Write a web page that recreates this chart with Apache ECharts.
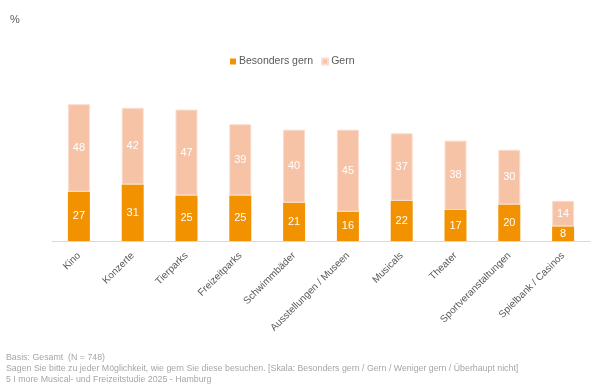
<!DOCTYPE html>
<html><head><meta charset="utf-8">
<script src="https://cdn.jsdelivr.net/npm/echarts@6/dist/echarts.min.js"></script>
<style>html,body{margin:0;padding:0;background:#fff}#c{width:600px;height:388px}</style>
</head><body><div id="c"></div>
<script>
const categories = ["Kino","Konzerte","Tierparks","Freizeitparks","Schwimmbäder","Ausstellungen / Museen","Musicals","Theater","Sportveranstaltungen","Spielbank / Casinos"];
const besondersGern = [27,31,25,25,21,16,22,17,20,8];
const gern = [48,42,47,39,40,45,37,38,30,14];
const footnotes = ["Basis: Gesamt  (N = 748)","Sagen Sie bitte zu jeder Möglichkeit, wie gern Sie diese besuchen. [Skala: Besonders gern / Gern / Weniger gern / Überhaupt nicht]","5 I more Musical- und Freizeitstudie 2025 - Hamburg"];

const chart = echarts.init(document.getElementById('c'));
const font = 'Liberation Sans, Arial, sans-serif';
chart.setOption({
  animation:false,
  textStyle:{fontFamily:font},
  graphic:[
    {type:'text',left:10,top:14,style:{text:'%',fill:'#595959',font:'11px '+font}},
    {type:'text',left:6,top:352,style:{text:footnotes.join('\n'),fill:'#a6a6a6',font:'8.8px '+font,lineHeight:11}}
  ],
  legend:{top:51,left:225,itemWidth:6,itemHeight:6,itemGap:8,icon:'rect',
    textStyle:{color:'#595959',fontSize:10.5,fontFamily:font,padding:[0,0,0,-2]},
    data:['Besonders gern','Gern']},
  grid:{left:52,right:10,top:95,bottom:147,containLabel:false},
  xAxis:{type:'category',data:categories,
    axisLine:{lineStyle:{color:'#d9d9d9'}},axisTick:{show:false},
    axisLabel:{rotate:45,color:'#595959',fontSize:10,fontFamily:font,interval:0,margin:13}},
  yAxis:{type:'value',min:0,max:80,show:false,splitLine:{show:false}},
  series:[
    {name:'Besonders gern',type:'bar',stack:'a',barWidth:22,data:besondersGern,
     itemStyle:{color:'#F39200'},
     label:{show:true,position:'inside',color:'#fff',fontSize:11,fontFamily:font}},
    {name:'Gern',type:'bar',stack:'a',barWidth:22,data:gern,
     itemStyle:{color:'#F6C3A6',borderColor:'#FBDDCF',borderWidth:1},
     label:{show:true,position:'inside',color:'#fff',fontSize:11,fontFamily:font}}
  ]
});
</script></body></html>
